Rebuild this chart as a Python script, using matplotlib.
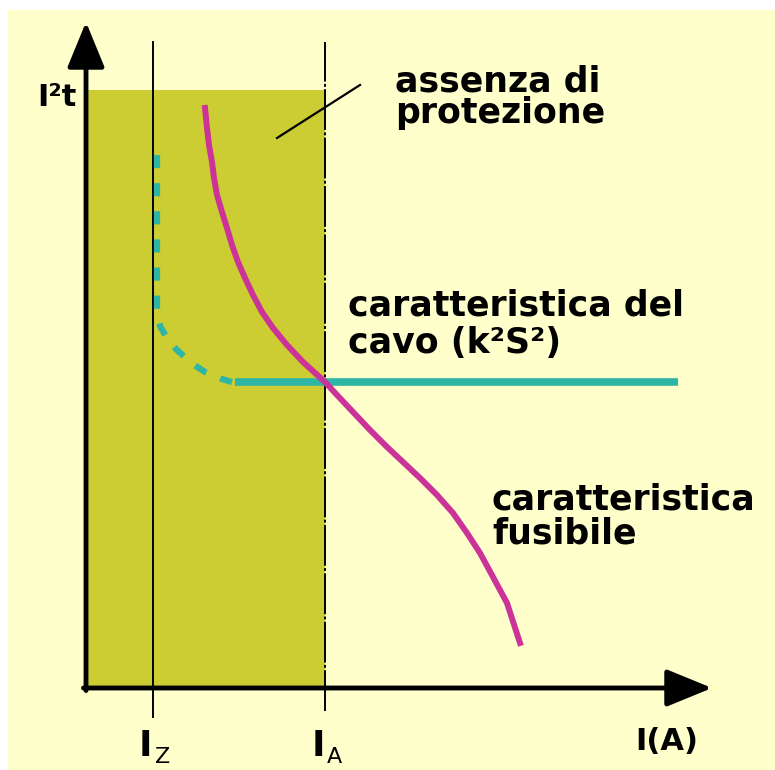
import matplotlib.pyplot as plt

# schematic units: origin at the axes corner
iz_x = 6.65
ia_x = 23.9
prot_top = 59.8
cable_level = 30.6
cable_end = 59.2

# fuse characteristic (I2t vs I)
fuse_x = [11.9, 12.1, 12.3, 12.6, 12.8, 13.1, 13.6, 14.1, 14.6, 15.2,
          15.9, 16.7, 17.6, 18.7, 20.1, 21.7, 23.9, 25.1, 26.7, 28.4,
          30.1, 31.7, 33.4, 35.1, 36.7, 38.1, 39.4, 40.7, 42.1, 43.4]
fuse_y = [58.0, 56.0, 54.3, 52.6, 51.0, 49.3, 47.6, 46.0, 44.3, 42.6,
          41.0, 39.3, 37.6, 36.0, 34.3, 32.6, 30.6, 29.3, 27.6, 25.8,
          24.1, 22.6, 21.0, 19.3, 17.5, 15.5, 13.5, 11.1, 8.5, 4.5]

# cable characteristic, dashed part at low currents
cable_dash_x = [7.1, 7.1, 7.4, 8.1, 9.0, 10.4, 11.9, 13.6, 14.6]
cable_dash_y = [53.3, 37.3, 36.2, 35.0, 33.9, 32.6, 31.6, 30.9, 30.6]
cable_solid_x = [14.9, cable_end]

leader_x = [19.1, 27.4]
leader_y = [55.0, 60.3]

BG = "#FFFFCC"
OLIVE = "#CCCC33"
MAGENTA = "#CC3399"
TEAL = "#2DB5A5"


def main():
    fig = plt.figure(figsize=(7.75, 7.70), dpi=100, facecolor="white")
    ax = fig.add_axes([8 / 775, 0, 767 / 775, 760 / 770])
    ax.set_facecolor(BG)
    ax.set_xlim(-7.8, 68.9)
    ax.set_ylim(-8.2, 67.8)
    ax.set_xticks([])
    ax.set_yticks([])
    for s in ax.spines.values():
        s.set_visible(False)

    # zone without protection
    ax.fill_between([0, ia_x], 0, prot_top, color=OLIVE, lw=0, zorder=1)

    # Iz and IA verticals
    ax.plot([iz_x, iz_x], [-2.9, 64.6], color="black", lw=1.4, zorder=2)
    ax.plot([ia_x, ia_x], [-2.3, 64.6], color="black", lw=1.4,
            dashes=(21, 1.2, 1.5, 1.2), zorder=2)

    # curves
    ax.plot(cable_dash_x, cable_dash_y, color=TEAL, lw=4.5,
            dashes=(2.1, 2.4), dash_capstyle="butt", zorder=3)
    ax.plot(cable_solid_x, [cable_level, cable_level], color=TEAL, lw=5.5,
            solid_capstyle="butt", zorder=3)
    ax.plot(fuse_x, fuse_y, color=MAGENTA, lw=4.3, zorder=4)

    ax.plot(leader_x, leader_y, color="black", lw=1.6, zorder=4)

    # axes with arrows
    arrow = dict(arrowstyle="-|>,head_length=2.8,head_width=1.15",
                 mutation_scale=10, lw=3.5, color="black",
                 shrinkA=0, shrinkB=0)
    ax.annotate("", xy=(0, 66.6), xytext=(0, -0.25), arrowprops=arrow,
                zorder=5)
    ax.annotate("", xy=(62.6, 0), xytext=(-0.25, 0), arrowprops=arrow,
                zorder=5)

    bold = dict(fontfamily="DejaVu Sans", fontweight="bold", color="black",
                fontsize=25, va="baseline", ha="left")
    ax.text(30.9, 59.6, "assenza di", **bold)
    ax.text(30.9, 56.5, "protezione", **bold)
    ax.text(26.2, 37.2, "caratteristica del", **bold)
    ax.text(26.2, 33.5, "cavo (k²S²)", **bold)
    ax.text(40.6, 17.8, "caratteristica", **bold)
    ax.text(40.6, 14.5, "fusibile", **bold)

    ax.text(-0.9, 58.2, "I²t", fontfamily="DejaVu Sans", fontweight="bold",
            fontsize=22, ha="right", va="baseline")
    ax.text(58.1, -6.2, "I(A)", fontfamily="DejaVu Sans", fontweight="bold",
            fontsize=22, ha="center", va="baseline")

    for xv, sub in [(iz_x, "Z"), (ia_x, "A")]:
        ax.text(xv - 0.7, -6.8, "I", fontfamily="DejaVu Sans",
                fontweight="bold", fontsize=26, ha="center", va="baseline")
        ax.text(xv + 0.2, -7.5, sub, fontfamily="DejaVu Sans",
                fontsize=16, ha="left", va="baseline")

    fig.savefig("out.png", dpi=100, facecolor="white")


if __name__ == "__main__":
    main()
